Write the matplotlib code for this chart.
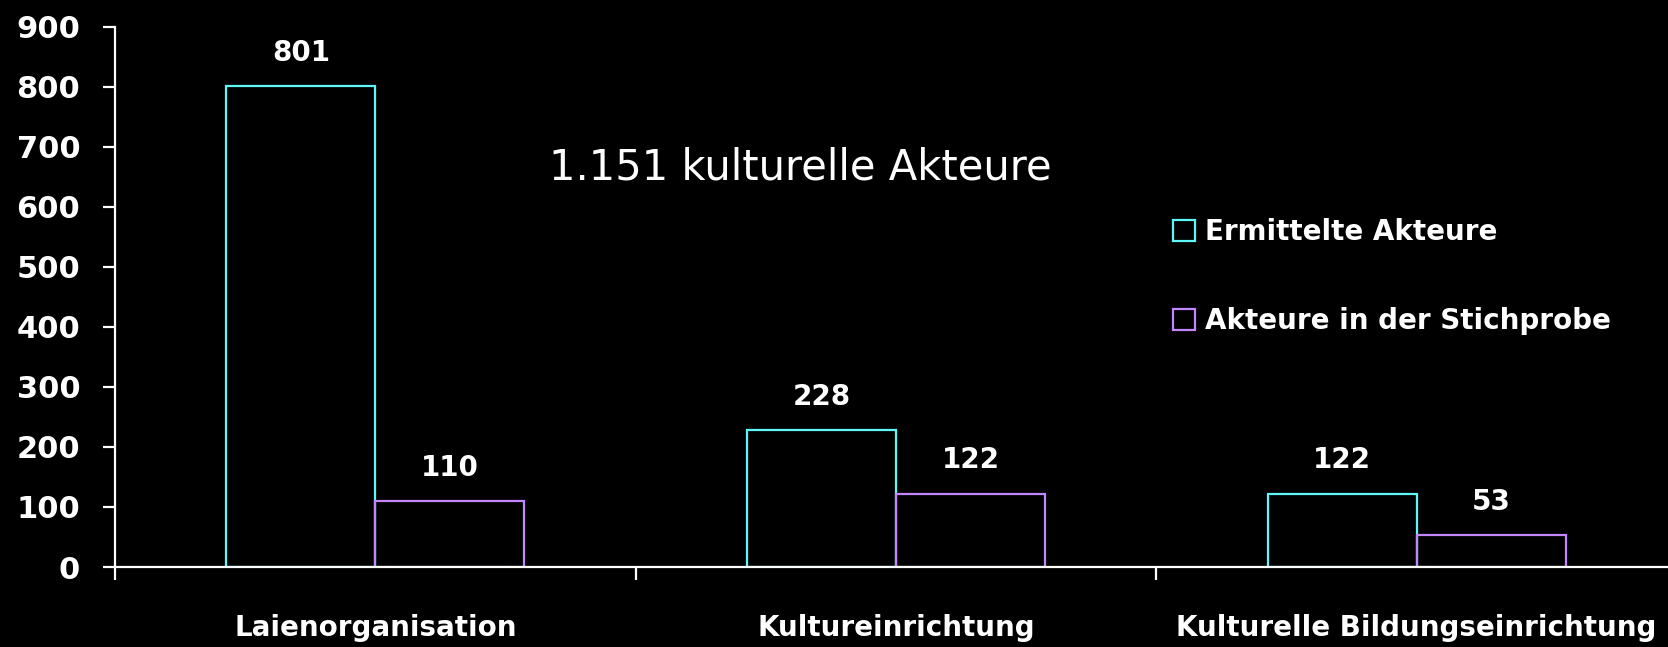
import matplotlib.pyplot as plt
from matplotlib.patches import Patch
import numpy as np

# Data
categories = ['Laienorganisation', 'Kultureinrichtung', 'Kulturelle Bildungseinrichtung']
ermittelt = [801, 228, 122]
stichprobe = [110, 122, 53]
series_names = ['Ermittelte Akteure', 'Akteure in der Stichprobe']
annotation = '1.151 kulturelle Akteure'

cyan = '#5ff6f6'
purple = '#c386ff'

fig = plt.figure(figsize=(16.68, 6.47), dpi=100, facecolor='black')
ax = fig.add_axes([0.0689, 0.1236, 0.9365, 0.8354], facecolor='black')

x = np.arange(len(categories))
w = 0.286
b1 = ax.bar(x - w / 2, ermittelt, w, facecolor='none', edgecolor=cyan, linewidth=1.6)
b2 = ax.bar(x + w / 2, stichprobe, w, facecolor='none', edgecolor=purple, linewidth=1.6)

# value labels above bars
for bars, vals in [(b1, ermittelt), (b2, stichprobe)]:
    for rect, v in zip(bars, vals):
        ax.annotate(str(v), (rect.get_x() + rect.get_width() / 2, v),
                    xytext=(0, 14), textcoords='offset points',
                    ha='center', va='bottom', color='white',
                    fontsize=20, fontweight='bold')

ax.set_xlim(-0.5, 2.5)
ax.set_ylim(0, 900)
ax.set_yticks(range(0, 901, 100))

# category boundary ticks, labels centred between them
ax.set_xticks(np.arange(-0.5, 3.0, 1.0))
ax.set_xticklabels([])
ax.set_xticks(x, minor=True)
ax.set_xticklabels(categories, minor=True)

for s in ['top', 'right']:
    ax.spines[s].set_visible(False)
for s in ['left', 'bottom']:
    ax.spines[s].set_color('white')
    ax.spines[s].set_linewidth(1.6)

ax.tick_params(axis='y', colors='white', length=9, width=1.6, pad=16,
               labelsize=22)
ax.tick_params(axis='x', which='major', colors='white', length=9, width=1.6)
ax.tick_params(axis='x', which='minor', colors='white', length=0, pad=34,
               labelsize=20)
for lbl in ax.get_yticklabels() + ax.get_xticklabels(minor=True):
    lbl.set_fontweight('bold')

fig.text(0.480, 0.741, annotation, ha='center', va='center',
         color='white', fontsize=30)

handles = [Patch(facecolor='none', edgecolor=cyan, linewidth=1.6),
           Patch(facecolor='none', edgecolor=purple, linewidth=1.6)]
leg = fig.legend(handles, series_names, loc='upper left',
                 bbox_to_anchor=(0.703, 0.663), frameon=False,
                 handlelength=0.8, handleheight=0.8, handletextpad=0.35,
                 labelspacing=2.2, borderpad=0, borderaxespad=0,
                 prop={'size': 20, 'weight': 'bold'})
for t in leg.get_texts():
    t.set_color('white')

fig.savefig('out.png', dpi=100, facecolor='black')
